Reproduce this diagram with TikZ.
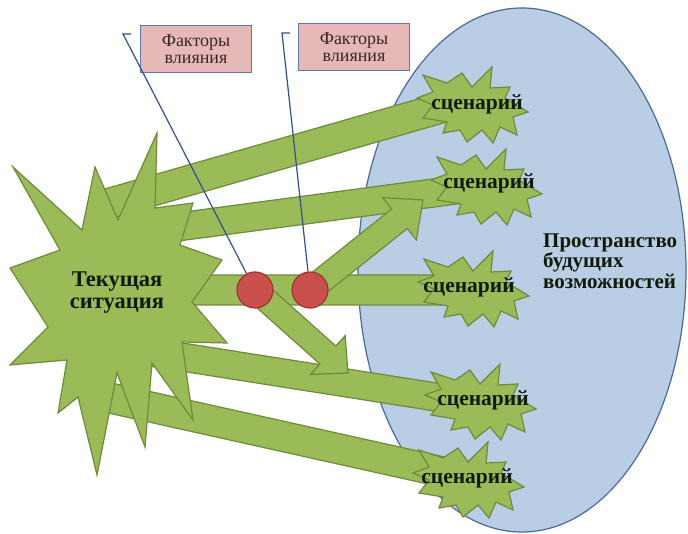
\documentclass[tikz,border=0pt]{standalone}
\usepackage{fontspec}
\setmainfont{Liberation Serif}[BoldFont={Liberation Serif Bold}]
\usetikzlibrary{calc}
\definecolor{gfill}{HTML}{9BBB59}
\definecolor{gline}{HTML}{6E8A3A}
\definecolor{efill}{HTML}{B9CDE5}
\definecolor{eline}{HTML}{4A6A9A}
\definecolor{rfill}{HTML}{C9504D}
\definecolor{rline}{HTML}{A0322F}
\definecolor{pfill}{HTML}{E6B9B8}
\definecolor{pline}{HTML}{5F7AA8}
\definecolor{cline}{HTML}{34508C}
\definecolor{ftext}{HTML}{3A2626}
\definecolor{dtext}{HTML}{0F1A08}
\tikzset{
  greenshape/.style={fill=gfill, draw=gline, line width=1.2pt, line join=miter},
  spacearea/.style={fill=efill, draw=eline, line width=1.2pt},
  redc/.style={circle, fill=rfill, draw=rline, line width=1.2pt, minimum size=36pt, inner sep=0pt},
  fbox/.style={rectangle, fill=pfill, draw=pline, line width=1.5pt, minimum width=111pt, minimum height=47pt,
     align=center, text=ftext, font=\fontsize{18}{17}\selectfont, inner sep=0pt},
  callout/.style={draw=cline, line width=1.2pt},
  scentext/.style={font=\fontsize{21.5}{22}\selectfont\bfseries, text=dtext, inner sep=0pt},
  curtext/.style={font=\fontsize{22.5}{22}\selectfont\bfseries, text=dtext, align=center, inner sep=0pt},
  spacetext/.style={font=\fontsize{21}{20.5}\selectfont\bfseries, text=dtext, align=left, inner sep=0pt, anchor=west}
}
% block arrow: style, from, to, half shaft, half head, head length
\newcommand\blockarrow[6]{%
  \coordinate (ba-h) at ($(#3)!#6!(#2)$);
  \draw[#1] ($(#2)!#4!90:(#3)$) -- ($(ba-h)!#4!90:(#3)$) -- ($(ba-h)!#5!90:(#3)$) -- (#3)
    -- ($(ba-h)!#5!-90:(#3)$) -- ($(ba-h)!#4!-90:(#3)$) -- ($(#2)!#4!-90:(#3)$) -- cycle;
}
% scenario starburst: name, centre, text position
\newcommand\scenstar[3]{%
  \draw[greenshape, shift={#2}] (-49,-28) -- (-25,-20) -- (-10,-30) -- (0,-16) -- (20,-36) -- (18,-15)
    -- (38,-16) -- (33,-5) -- (56,9) -- (41,14) -- (45,32) -- (28,24) -- (21,40) -- (10,27)
    -- (-5,39) -- (-12,27) -- (-29,30) -- (-25,19) -- (-49,15) -- (-39,2) -- (-55,-5) -- (-39,-11) -- cycle;
  \node[scentext] (#1) at #3 {сценарий};
}
\begin{document}
\begin{tikzpicture}[x=1pt,y=-1pt]
\useasboundingbox (0,0) rectangle (688,534);
\fill[white] (0,0) rectangle (688,534);
% space of future possibilities
\draw[spacearea] (522,270) ellipse [x radius=164, y radius=262];
\node[spacetext] (space) at (543,261) {Пространство\\будущих\\возможностей};
% arrow end points
\coordinate (a1s) at (100,206); \coordinate (a1e) at (476,98);
\coordinate (a2s) at (140,232); \coordinate (a2e) at (486,186);
\coordinate (a3s) at (170,290); \coordinate (a3e) at (476,290);
\coordinate (a4s) at (150,352); \coordinate (a4e) at (480,404);
\coordinate (a5s) at (110,398); \coordinate (a5e) at (470,478);
\blockarrow{greenshape}{a1s}{a1e}{15pt}{20pt}{22pt}
\blockarrow{greenshape}{a2s}{a2e}{14pt}{19pt}{22pt}
\blockarrow{greenshape}{a3s}{a3e}{15pt}{20pt}{22pt}
\blockarrow{greenshape}{a4s}{a4e}{14pt}{19pt}{22pt}
\blockarrow{greenshape}{a5s}{a5e}{15pt}{20pt}{22pt}
% influence points
\coordinate (c1p) at (255,290);
\coordinate (c2p) at (310,290);
\coordinate (d1e) at (348,373);
\coordinate (d2e) at (423,200);
\blockarrow{greenshape}{c1p}{d1e}{12pt}{26pt}{27pt}
\blockarrow{greenshape}{c2p}{d2e}{12.5pt}{27pt}{30pt}
% current situation
\draw[greenshape] (13,167) -- (82,230) -- (95,167) -- (118,220) -- (157,133) -- (155,208) -- (193,203)
  -- (180,245) -- (222,260) -- (192,302) -- (227,343) -- (182,342) -- (193,420) -- (152,363)
  -- (145,447) -- (117,373) -- (97,475) -- (78,397) -- (58,413) -- (67,360) -- (10,365)
  -- (48,327) -- (10,268) -- (60,250) -- cycle;
\node[curtext] (cur) at (117,293) {Текущая\\ситуация};
\node[redc] (c1) at (c1p) {};
\node[redc] (c2) at (c2p) {};
% scenarios
\scenstar{s1}{(472,103)}{(477,104)}
\scenstar{s2}{(486,185)}{(489,183)}
\scenstar{s3}{(473,287)}{(469,287)}
\scenstar{s4}{(480,400)}{(483,400)}
\scenstar{s5}{(468,478)}{(467,478)}
% factors
\node[fbox] (f1) at (196,49) {Факторы\\влияния};
\node[fbox] (f2) at (354,47) {Факторы\\влияния};
\coordinate (k1) at (123,34); \coordinate (k1e) at (131,34);
\coordinate (k2) at (282,33); \coordinate (k2e) at (290,33);
\draw[callout] (c1) -- (k1) -- (k1e);
\draw[callout] (c2) -- (k2) -- (k2e);
\end{tikzpicture}
\end{document}
